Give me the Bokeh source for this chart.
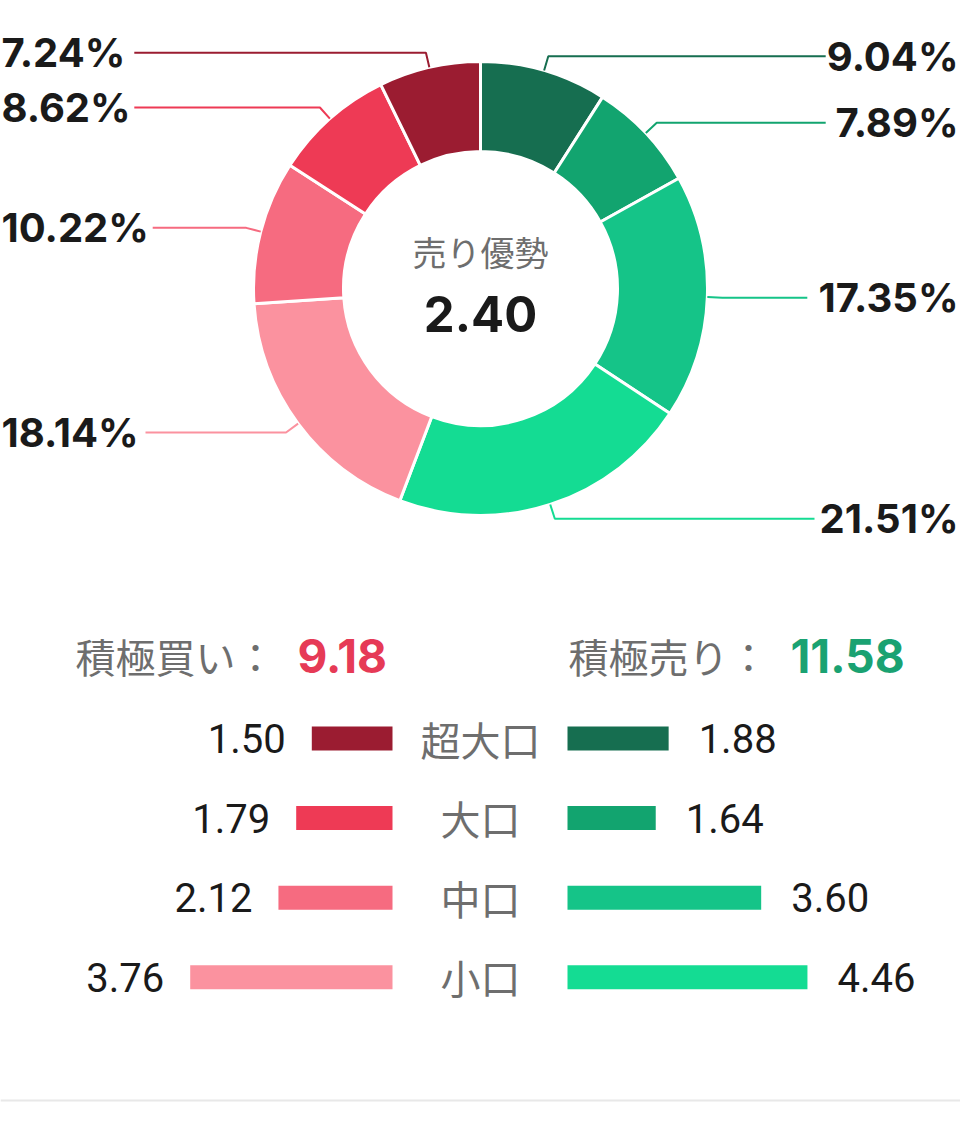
import numpy as np
from bokeh.plotting import figure
from bokeh.models import Range1d
from bokeh.embed import file_html
from bokeh.resources import INLINE
from bokeh.core.properties import value

# ---------------- data ----------------
tiers = ["超大口", "大口", "中口", "小口"]
buy_values = [1.50, 1.79, 2.12, 3.76]
sell_values = [1.88, 1.64, 3.60, 4.46]
buy_total = 9.18
sell_total = 11.58
buy_pct = [7.24, 8.62, 10.22, 18.14]
sell_pct = [9.04, 7.89, 17.35, 21.51]
center_title = "売り優勢"
center_value = "2.40"
buy_title = "積極買い："
sell_title = "積極売り："
buy_colors = ["#9B1C31", "#EE3A55", "#F66B80", "#FB929F"]
sell_colors = ["#166E50", "#12A46F", "#15C488", "#14DC93"]

# ---------------- layout ----------------
W, H = 960, 1121
CX, CY = 480, 288
RO, RI = 227, 137
LEAD = 15
NUM_FONT = value("Inter")
CJK_FONT = value("Noto Sans CJK JP")
VAL_FONT = value("Roboto")
GRAY = "#6E6E6E"
BLACK = "#1A1A1A"


def Y(sy):
    return -sy


p = figure(width=W, height=H, x_range=Range1d(0, W),
           y_range=Range1d(-H, 0), output_backend="svg",
           toolbar_location=None, min_border=0,
           x_axis_location=None, y_axis_location=None)
p.grid.visible = False
p.outline_line_color = None
p.background_fill_color = "white"
p.border_fill_color = "white"

# ---------------- donut ----------------
pct = sell_pct + buy_pct[::-1]
colors = sell_colors + buy_colors[::-1]
cum = np.concatenate([[0.0], np.cumsum(pct)])
theta = cum / cum[-1] * 2 * np.pi  # clockwise from 12 o'clock
start = np.pi / 2 - theta[1:]
end = np.pi / 2 - theta[:-1]
p.annular_wedge(x=CX, y=Y(CY), inner_radius=RI, outer_radius=RO,
                start_angle=start, end_angle=end, fill_color=colors,
                line_color="white", line_width=3)

# label width estimate (em units) for leader line ends
cw = {"1": 0.46, ".": 0.28, "%": 0.92}
LABEL_PX = 40


def text_w(s):
    return sum(cw.get(c, 0.64) for c in s) * LABEL_PX


xs, ys, lx, ly, ltxt, lalign = [], [], [], [], [], []
for i, v in enumerate(pct):
    m = (theta[i] + theta[i + 1]) / 2
    s, c = np.sin(m), np.cos(m)
    x0, y0 = CX + RO * s, CY - RO * c
    x1, y1 = CX + (RO + LEAD) * s, CY - (RO + LEAD) * c
    t = f"{v:.2f}%"
    w = text_w(t)
    if s > 0:
        tx = 958
        x2 = tx - w - 8
        lalign.append("right")
    else:
        tx = 1
        x2 = tx + w + 8
        lalign.append("left")
    xs.append([x0, x1, x2])
    ys.append([Y(y0), Y(y1), Y(y1)])
    lx.append(tx)
    ly.append(Y(y1))
    ltxt.append(t)

p.multi_line(xs=xs, ys=ys, line_color=colors, line_width=2)
for x, y, t, a in zip(lx, ly, ltxt, lalign):
    p.text(x=[x], y=[y], text=[t], text_align=a, text_baseline="middle",
           text_font=NUM_FONT, text_font_style="bold",
           text_font_size=f"{LABEL_PX}px", text_color=BLACK)

# center texts
p.text(x=[CX], y=[Y(251)], text=[center_title], text_align="center",
       text_baseline="middle", text_font=CJK_FONT, text_font_size="34px",
       text_color=GRAY)
p.text(x=[CX], y=[Y(313)], text=[center_value], text_align="center",
       text_baseline="middle", text_font=NUM_FONT, text_font_style="bold",
       text_font_size="49px", text_color=BLACK)

# ---------------- summary header ----------------
HY = 655
p.text(x=[75], y=[Y(HY)], text=[buy_title], text_align="left",
       text_baseline="middle", text_font=CJK_FONT, text_font_size="40px",
       text_color=GRAY)
p.text(x=[297], y=[Y(HY)], text=[f"{buy_total:.2f}"], text_align="left",
       text_baseline="middle", text_font=NUM_FONT, text_font_style="bold",
       text_font_size="46px", text_color="#E63A56")
p.text(x=[568], y=[Y(HY)], text=[sell_title], text_align="left",
       text_baseline="middle", text_font=CJK_FONT, text_font_size="40px",
       text_color=GRAY)
p.text(x=[790], y=[Y(HY)], text=[f"{sell_total:.2f}"], text_align="left",
       text_baseline="middle", text_font=NUM_FONT, text_font_style="bold",
       text_font_size="46px", text_color="#1AA272")

# ---------------- tier bars ----------------
ROW0, ROWSTEP = 738, 79.6
BUY_RIGHT, SELL_LEFT = 392, 567
SCALE = 53.8
BAR_H = 24
row_y = [Y(ROW0 + i * ROWSTEP) for i in range(len(tiers))]
buy_left = [BUY_RIGHT - v * SCALE for v in buy_values]
sell_right = [SELL_LEFT + v * SCALE for v in sell_values]

p.hbar(y=row_y, left=buy_left, right=BUY_RIGHT, height=BAR_H,
       fill_color=buy_colors, line_color=None)
p.hbar(y=row_y, left=SELL_LEFT, right=sell_right, height=BAR_H,
       fill_color=sell_colors, line_color=None)

p.text(x=[l - 26 for l in buy_left], y=row_y,
       text=[f"{v:.2f}" for v in buy_values], text_align="right",
       text_baseline="middle", text_font=VAL_FONT, text_font_size="40px",
       text_color=BLACK)
p.text(x=[r + 30 for r in sell_right], y=row_y,
       text=[f"{v:.2f}" for v in sell_values], text_align="left",
       text_baseline="middle", text_font=VAL_FONT, text_font_size="40px",
       text_color=BLACK)
p.text(x=[CX] * len(tiers), y=row_y, text=tiers, text_align="center",
       text_baseline="middle", text_font=CJK_FONT, text_font_size="40px",
       text_color=GRAY)

# bottom separator
p.segment(x0=[0], x1=[W], y0=[Y(1100)], y1=[Y(1100)],
          line_color="#E8E8E8", line_width=2)

open("out.html", "w").write(file_html(p, INLINE))
